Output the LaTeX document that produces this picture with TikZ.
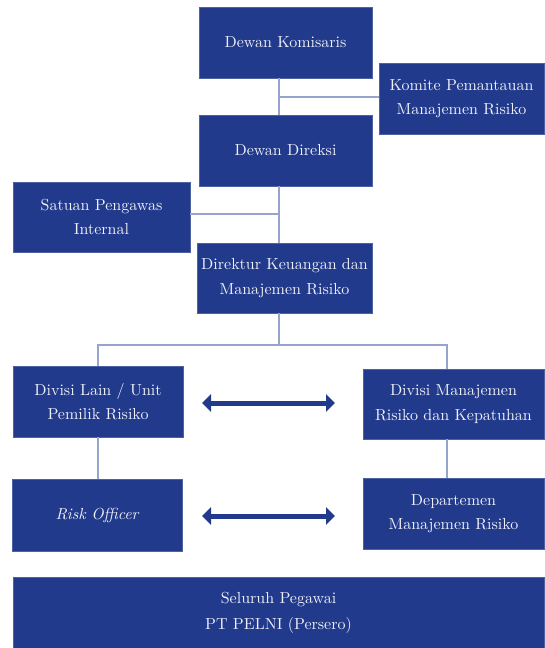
\documentclass[tikz,border=0pt]{standalone}
\usepackage{fontspec}
\setmainfont{lmroman10}[Extension=.otf,UprightFont=*-regular,ItalicFont=*-italic,BoldFont=*-bold]
\usetikzlibrary{arrows.meta}
\definecolor{boxblue}{RGB}{33,58,140}
\definecolor{linkblue}{RGB}{150,165,205}
\definecolor{txtwhite}{RGB}{240,240,248}
\begin{document}
\begin{tikzpicture}[x=1pt,y=-1pt,
  box/.style={fill=boxblue,draw=boxblue!80!white,line width=0.6pt,text=txtwhite,align=center,
    inner sep=0pt,font=\fontsize{16}{24.5}\selectfont},
  link/.style={draw=linkblue,line width=1.2pt},
  dbl/.style={draw=boxblue,line width=5pt,{Triangle[width=17pt,length=9pt]}-{Triangle[width=17pt,length=9pt]}}]
\useasboundingbox[fill=white] (0,0) rectangle (544,648);
% boxes
\node[box,minimum width=173pt,minimum height=71pt] (dk) at (285.5,42.5) {Dewan Komisaris};
\node[box,minimum width=165pt,minimum height=71pt] (kpm) at (461.5,98.5) {Komite Pemantauan\\Manajemen Risiko};
\node[box,minimum width=173pt,minimum height=71pt] (dd) at (285.5,150.5) {Dewan Direksi};
\node[box,minimum width=177pt,minimum height=70pt] (spi) at (101.5,217) {Satuan Pengawas\\Internal};
\node[box,minimum width=175pt,minimum height=70pt] (dkm) at (284.5,278) {Direktur Keuangan dan\\Manajemen Risiko};
\node[box,minimum width=170pt,minimum height=71pt] (dl) at (98,401.5) {Divisi Lain / Unit\\Pemilik Risiko};
\node[box,minimum width=181pt,minimum height=70pt] (dmr) at (453.5,404) {Divisi Manajemen\\Risiko dan Kepatuhan};
\node[box,minimum width=170pt,minimum height=72pt] (ro) at (97,515) {\itshape Risk Officer};
\node[box,minimum width=181pt,minimum height=71pt] (dep) at (453.5,513.5) {Departemen\\Manajemen Risiko};
\node[box,minimum width=531pt,minimum height=71pt,font=\fontsize{16}{26}\selectfont] (sp) at (278.5,612.5) {Seluruh Pegawai\\PT PELNI (Persero)};
% spine coordinates
\coordinate (spine) at (279,0);
\coordinate (j1) at (279,97);
\coordinate (j2) at (279,214);
\coordinate (busy) at (0,345);
\coordinate (bl) at (98,345);
\coordinate (br) at (447,345);
% connectors
\draw[link] (dk.south -| spine) -- (dd.north -| spine);
\draw[link] (j1) -- (j1 -| kpm.west);
\draw[link] (dd.south -| spine) -- (dkm.north -| spine);
\draw[link] (j2) -- (j2 -| spi.east);
\draw[link] (dkm.south -| spine) -- (spine |- busy);
\draw[link] (dl.north -| bl) -- (bl) -- (br) -- (dmr.north -| br);
\draw[link] (dl.south -| bl) -- (ro.north -| bl);
\draw[link] (dmr.south -| br) -- (dep.north -| br);
% arrows
\coordinate (a1) at (202,403);
\coordinate (b1) at (335,403);
\coordinate (a2) at (202,516);
\coordinate (b2) at (335,516);
\draw[dbl] (a1) -- (b1);
\draw[dbl] (a2) -- (b2);
\end{tikzpicture}
\end{document}
